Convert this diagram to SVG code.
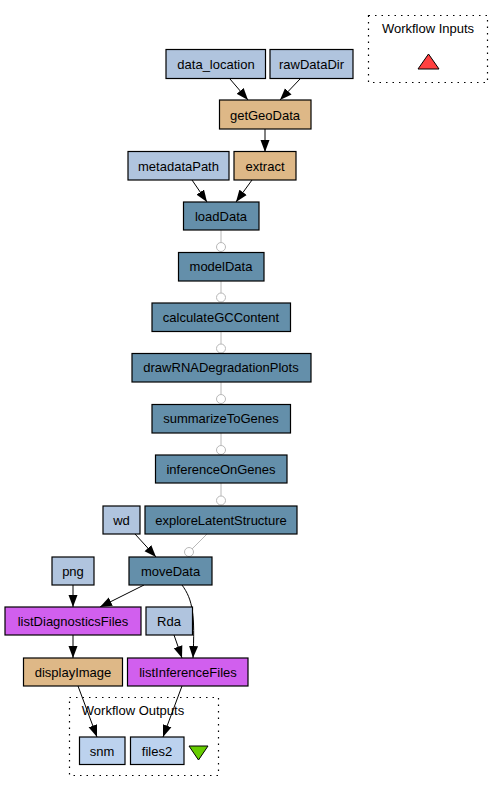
<svg xmlns="http://www.w3.org/2000/svg" width="503" height="792" viewBox="0 0 503 792">
<style>
text{font-family:"Liberation Sans",Arial,sans-serif;font-size:13px;fill:#000;text-anchor:middle}
.n rect{stroke:#000;stroke-width:1.2}
.in rect{fill:#b0c4de}
.bs rect{fill:#deb887}
.rs rect{fill:#648faa}
.lw rect{fill:#d15fee}
.out rect{fill:#bcd2ee}
.cl{fill:none;stroke:#000;stroke-width:1.2;stroke-dasharray:1.5,5}
.e{fill:none;stroke:#000;stroke-width:1;marker-end:url(#arr)}
.g{fill:none;stroke:#b8b8b8;stroke-width:1}
.od{fill:#fff;stroke:#b8b8b8;stroke-width:1}
</style>
<defs>
<marker id="arr" markerUnits="userSpaceOnUse" markerWidth="12" markerHeight="10" refX="12" refY="5" orient="auto"><path d="M0,0.5 L12,5 L0,9.5 z" fill="#000"/></marker>
</defs>
<rect width="503" height="792" fill="#fff"/>
<g id="cluster_inputs">
<rect class="cl" x="368.5" y="15.5" width="119" height="67"/>
<text x="428" y="33">Workflow Inputs</text>
<polygon points="428.5,54 439,69 418,69" fill="#ff4040" stroke="#000" stroke-width="1"/>
</g>
<g id="cluster_outputs">
<rect class="cl" x="69.5" y="697.5" width="149" height="78"/>
<text x="133" y="715">Workflow Outputs</text>
<polygon points="189,746 208,746 198.5,760" fill="#66cd00" stroke="#000" stroke-width="1"/>
</g>
<g id="edges">
<line class="e" x1="230" y1="79" x2="248" y2="100"/>
<line class="e" x1="300" y1="79" x2="280" y2="100"/>
<line class="e" x1="265" y1="129" x2="265" y2="152"/>
<line class="e" x1="192" y1="180" x2="207" y2="202"/>
<line class="e" x1="252" y1="180" x2="236" y2="202"/>
<line class="g" x1="221" y1="230" x2="221" y2="242.5"/><circle class="od" cx="221" cy="247" r="4.5"/>
<line class="g" x1="221" y1="281" x2="221" y2="293"/><circle class="od" cx="221" cy="297.5" r="4.5"/>
<line class="g" x1="221" y1="331" x2="221" y2="344"/><circle class="od" cx="221" cy="348.5" r="4.5"/>
<line class="g" x1="221" y1="382" x2="221" y2="394.5"/><circle class="od" cx="221" cy="399" r="4.5"/>
<line class="g" x1="221" y1="433" x2="221" y2="445.5"/><circle class="od" cx="221" cy="450" r="4.5"/>
<line class="g" x1="221" y1="483" x2="221" y2="496"/><circle class="od" cx="221" cy="500.5" r="4.5"/>
<line class="g" x1="207" y1="534" x2="192" y2="549"/><circle class="od" cx="189" cy="552" r="4.5"/>
<line class="e" x1="135" y1="534" x2="156" y2="557"/>
<line class="e" x1="144" y1="585" x2="100" y2="607"/>
<line class="e" x1="73" y1="585" x2="73" y2="607"/>
<path class="e" d="M182,585 C193,600 195,615 193,658"/>
<line class="e" x1="174" y1="635" x2="182" y2="658"/>
<line class="e" x1="73" y1="635" x2="73" y2="658"/>
<line class="e" x1="78" y1="686" x2="97" y2="737"/>
<line class="e" x1="182" y1="686" x2="163" y2="737"/>
</g>
<g id="data_location" class="n in"><rect x="166" y="49.5" width="99.5" height="29"/><text x="216" y="69">data_location</text></g>
<g id="rawDataDir" class="n in"><rect x="270" y="49.5" width="83" height="29"/><text x="311.5" y="69">rawDataDir</text></g>
<g id="getGeoData" class="n bs"><rect x="219.5" y="100" width="91.5" height="29"/><text x="265" y="119.5">getGeoData</text></g>
<g id="metadataPath" class="n in"><rect x="128" y="151.5" width="101" height="28.5"/><text x="178.5" y="170.5">metadataPath</text></g>
<g id="extract" class="n bs"><rect x="234" y="151.5" width="62" height="28.5"/><text x="265" y="170.5">extract</text></g>
<g id="loadData" class="n rs"><rect x="183.5" y="202" width="75.5" height="28"/><text x="221" y="220.5">loadData</text></g>
<g id="modelData" class="n rs"><rect x="178.5" y="252.5" width="85.5" height="28.5"/><text x="221" y="271">modelData</text></g>
<g id="calculateGCContent" class="n rs"><rect x="152" y="303" width="138.5" height="28.5"/><text x="221" y="321.5">calculateGCContent</text></g>
<g id="drawRNADegradationPlots" class="n rs"><rect x="132" y="353.5" width="179" height="28.5"/><text x="221" y="372">drawRNADegradationPlots</text></g>
<g id="summarizeToGenes" class="n rs"><rect x="152" y="404.5" width="138.5" height="28.5"/><text x="221" y="423">summarizeToGenes</text></g>
<g id="inferenceOnGenes" class="n rs"><rect x="155.5" y="455" width="131.5" height="28"/><text x="221" y="473.5">inferenceOnGenes</text></g>
<g id="wd" class="n in"><rect x="103" y="506" width="37" height="28"/><text x="121.5" y="524.5">wd</text></g>
<g id="exploreLatentStructure" class="n rs"><rect x="145" y="506" width="152" height="28"/><text x="221" y="524.5">exploreLatentStructure</text></g>
<g id="png" class="n in"><rect x="52" y="557" width="42" height="28"/><text x="73" y="575.5">png</text></g>
<g id="moveData" class="n rs"><rect x="129" y="557" width="83" height="28"/><text x="170.5" y="575.5">moveData</text></g>
<g id="listDiagnosticsFiles" class="n lw"><rect x="5" y="607" width="136" height="28"/><text x="73" y="625.5">listDiagnosticsFiles</text></g>
<g id="Rda" class="n in"><rect x="146" y="607" width="46.5" height="28"/><text x="169" y="625.5">Rda</text></g>
<g id="displayImage" class="n bs"><rect x="23.5" y="658" width="99" height="28"/><text x="73" y="676.5">displayImage</text></g>
<g id="listInferenceFiles" class="n lw"><rect x="127.5" y="658" width="120.5" height="28"/><text x="188" y="676.5">listInferenceFiles</text></g>
<g id="snm" class="n out"><rect x="79.5" y="737" width="45.5" height="27.5"/><text x="102" y="755.5">snm</text></g>
<g id="files2" class="n out"><rect x="130.5" y="737" width="53.5" height="27.5"/><text x="157" y="755.5">files2</text></g>
</svg>
